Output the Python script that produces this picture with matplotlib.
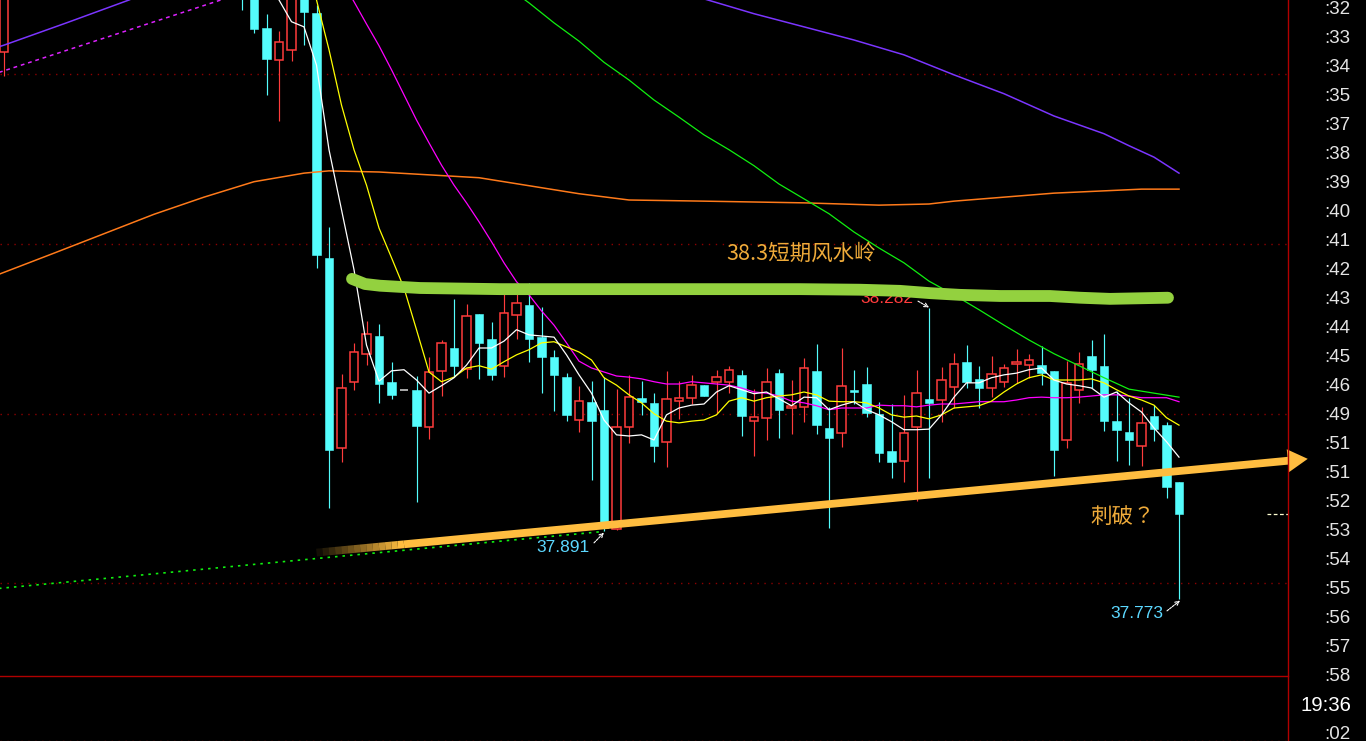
"""Intraday candlestick chart: the 38.3 resistance band and the rising support arrow.

Writes out.png (1366x741).
"""

import matplotlib
matplotlib.use("Agg")
import matplotlib.pyplot as plt
import numpy as np
from matplotlib.collections import LineCollection
from matplotlib.lines import Line2D
from matplotlib.patches import Rectangle, FancyArrowPatch

# ---- candles (bar number, OHLC) --------------------------------------------
BAR = [0] + list(range(19, 95))
OPEN = [38.730, 38.891, 38.856, 38.772, 38.716, 38.734, 38.839, 38.798, 38.370, 38.037,
        38.153, 38.202, 38.233, 38.153, 38.139, 38.139, 38.074, 38.172, 38.212, 38.175,
        38.272, 38.228, 38.181, 38.270, 38.287, 38.231, 38.196, 38.161, 38.086, 38.118,
        38.104, 37.896, 38.074, 38.125, 38.116, 38.048, 38.119, 38.125, 38.147, 38.153,
        38.153, 38.165, 38.084, 38.090, 38.168, 38.107, 38.109, 38.172, 38.072, 38.063,
        38.139, 38.149, 38.097, 38.032, 38.014, 38.074, 38.123, 38.121, 38.144, 38.188,
        38.158, 38.142, 38.153, 38.184, 38.182, 38.182, 38.172, 38.051, 38.139, 38.198,
        38.181, 38.084, 38.065, 38.041, 38.093, 38.077, 37.978]
HIGH = [38.891, 38.909, 38.874, 38.797, 38.767, 38.856, 38.856, 38.812, 38.424, 38.167,
        38.221, 38.259, 38.254, 38.188, 38.139, 38.163, 38.196, 38.226, 38.298, 38.289,
        38.272, 38.258, 38.307, 38.308, 38.326, 38.284, 38.209, 38.168, 38.146, 38.154,
        38.161, 38.140, 38.165, 38.154, 38.133, 38.172, 38.154, 38.165, 38.147, 38.174,
        38.181, 38.174, 38.140, 38.177, 38.175, 38.156, 38.195, 38.219, 38.109, 38.212,
        38.174, 38.179, 38.118, 38.114, 38.130, 38.174, 38.282, 38.179, 38.203, 38.217,
        38.181, 38.198, 38.184, 38.210, 38.202, 38.216, 38.172, 38.189, 38.205, 38.226,
        38.237, 38.137, 38.125, 38.109, 38.112, 38.083, 37.978]
LOW = [38.688, 38.804, 38.763, 38.655, 38.609, 38.714, 38.742, 38.352, 37.932, 38.013,
       38.139, 38.182, 38.116, 38.123, 38.139, 37.943, 38.053, 38.128, 38.161, 38.160,
       38.158, 38.156, 38.161, 38.228, 38.188, 38.133, 38.102, 38.084, 38.065, 37.981,
       37.891, 37.894, 38.046, 38.095, 38.013, 38.004, 38.088, 38.114, 38.128, 38.098,
       38.133, 38.058, 38.023, 38.051, 38.055, 38.062, 38.083, 38.062, 37.897, 38.039,
       38.114, 38.091, 38.013, 37.984, 37.978, 37.944, 37.984, 38.083, 38.107, 38.142,
       38.107, 38.126, 38.144, 38.151, 38.160, 38.147, 37.988, 38.037, 38.116, 38.142,
       38.067, 38.014, 38.007, 38.006, 38.049, 37.950, 37.773]
CLOSE = [38.874, 38.830, 38.770, 38.718, 38.748, 38.839, 38.800, 38.375, 38.034, 38.142,
         38.205, 38.237, 38.149, 38.130, 38.139, 38.076, 38.170, 38.221, 38.181, 38.268,
         38.221, 38.165, 38.273, 38.291, 38.228, 38.196, 38.165, 38.095, 38.119, 38.084,
         37.897, 38.074, 38.126, 38.118, 38.041, 38.123, 38.125, 38.147, 38.128, 38.161,
         38.174, 38.093, 38.091, 38.153, 38.104, 38.111, 38.177, 38.077, 38.055, 38.146,
         38.135, 38.098, 38.028, 38.013, 38.063, 38.133, 38.116, 38.156, 38.184, 38.153,
         38.142, 38.167, 38.177, 38.188, 38.191, 38.168, 38.034, 38.151, 38.184, 38.174,
         38.084, 38.069, 38.051, 38.081, 38.070, 37.969, 37.921]

# ---- moving averages --------------------------------------------------------
MA5_X = list(range(21, 95))
MA5 = [38.860, 38.821, 38.783, 38.774, 38.707, 38.559, 38.454, 38.349, 38.217, 38.154,
       38.172, 38.174, 38.156, 38.133, 38.146, 38.160, 38.182, 38.212, 38.212, 38.224,
       38.244, 38.235, 38.233, 38.231, 38.200, 38.165, 38.133, 38.086, 38.060, 38.058,
       38.060, 38.051, 38.095, 38.107, 38.112, 38.114, 38.135, 38.146, 38.139, 38.132,
       38.135, 38.123, 38.111, 38.126, 38.125, 38.104, 38.112, 38.118, 38.104, 38.095,
       38.083, 38.069, 38.069, 38.070, 38.095, 38.126, 38.151, 38.151, 38.160, 38.165,
       38.168, 38.174, 38.177, 38.156, 38.149, 38.146, 38.142, 38.126, 38.135, 38.116,
       38.100, 38.072, 38.048, 38.021]
MA10_X = list(range(24, 95))
MA10 = [38.891, 38.821, 38.734, 38.637, 38.559, 38.497, 38.422, 38.370, 38.317, 38.244,
        38.170, 38.153, 38.161, 38.177, 38.181, 38.175, 38.188, 38.200, 38.209, 38.221,
        38.223, 38.214, 38.205, 38.191, 38.160, 38.147, 38.130, 38.116, 38.097, 38.084,
        38.081, 38.084, 38.086, 38.095, 38.119, 38.125, 38.119, 38.125, 38.128, 38.130,
        38.135, 38.130, 38.119, 38.118, 38.118, 38.116, 38.107, 38.095, 38.091, 38.093,
        38.088, 38.095, 38.107, 38.109, 38.111, 38.119, 38.135, 38.149, 38.160, 38.165,
        38.156, 38.156, 38.156, 38.158, 38.151, 38.139, 38.128, 38.121, 38.112, 38.090,
        38.077]
MA20_X = list(range(27, 95))
MA20 = [38.856, 38.818, 38.779, 38.741, 38.699, 38.655, 38.611, 38.571, 38.532, 38.497,
        38.466, 38.433, 38.398, 38.361, 38.328, 38.305, 38.277, 38.252, 38.221, 38.189,
        38.177, 38.170, 38.163, 38.161, 38.158, 38.153, 38.149, 38.149, 38.153, 38.151,
        38.149, 38.147, 38.142, 38.135, 38.133, 38.128, 38.119, 38.116, 38.111, 38.104,
        38.107, 38.107, 38.107, 38.112, 38.111, 38.111, 38.109, 38.112, 38.114, 38.114,
        38.116, 38.118, 38.118, 38.118, 38.121, 38.125, 38.126, 38.125, 38.125, 38.126,
        38.128, 38.130, 38.130, 38.128, 38.125, 38.125, 38.125, 38.118]
MA60_X = [41, 42, 44, 46, 48, 50, 52, 54, 56, 58, 60, 62, 64, 66, 68, 70, 72, 74, 76,
          78, 80, 82, 84, 86, 88, 90, 92, 94]
MA60 = [38.832, 38.816, 38.781, 38.749, 38.712, 38.681, 38.646, 38.616, 38.585, 38.559,
        38.531, 38.499, 38.473, 38.447, 38.415, 38.387, 38.361, 38.329, 38.305, 38.279,
        38.252, 38.226, 38.202, 38.181, 38.160, 38.140, 38.133, 38.126]
MA120_X = [-1, 0, 5, 10, 15, 25, 40, 50, 56, 60, 64, 68, 72, 76, 80, 84, 88, 90, 92,
           93, 94]
MA120 = [38.735, 38.742, 38.781, 38.821, 38.870, 38.950, 38.980, 38.900, 38.823, 38.797,
         38.774, 38.751, 38.725, 38.690, 38.657, 38.618, 38.587, 38.566, 38.546, 38.532,
         38.518]
MA250_X = [-1, 4, 8, 12, 16, 20, 24, 26, 30, 34, 38, 42, 46, 50, 56, 64, 70, 74, 76, 80,
           84, 88, 91, 94]
MA250 = [38.336, 38.378, 38.412, 38.446, 38.476, 38.503, 38.518, 38.522, 38.520, 38.515,
         38.510, 38.496, 38.482, 38.471, 38.469, 38.466, 38.462, 38.464, 38.469, 38.476,
         38.483, 38.487, 38.490, 38.490]

# ---- drawn lines and notes ---------------------------------------------------
DOTTED_PINK_X = [-1, 20]
DOTTED_PINK = [38.690, 38.840]
DOTTED_GREEN_X = [-1, 48]
DOTTED_GREEN = [37.790, 37.891]
SUPPORT_X = [25.0, 104.3]
SUPPORT = [37.854, 38.018]
RESIST_X = [27.84, 28.88, 30.08, 33.28, 39.68, 47.68, 55.68, 63.68, 68.48, 71.68,
            74.08, 76.48, 79.68, 83.68, 86.08, 88.48, 93.12]
RESIST = [38.333, 38.324, 38.321, 38.317, 38.315, 38.315, 38.315, 38.315, 38.314, 38.312,
          38.308, 38.305, 38.303, 38.303, 38.300, 38.298, 38.300]
GRID = [38.692, 38.394, 38.097, 37.800]
# (text, text anchor, pointer start, pointer tip, colour)
PRICE_NOTES = [("38.282", (72.72, 38.299), (73.12, 38.294), (74.0, 38.283), "#ff3c3c"),
               ("37.891", (46.88, 37.862), (47.2, 37.871), (48.0, 37.889), "#5cd8ff"),
               ("37.773", (92.72, 37.747), (93.04, 37.752), (94.08, 37.770), "#5cd8ff")]
TITLE_NOTE = ("38.3短期风水岭", 57.8, 38.377)
BREAK_NOTE = ("刺破？", 86.9, 37.916)
TIME_LABELS = [":32", ":33", ":34", ":35", ":37", ":38", ":39", ":40", ":41", ":42", ":43",
               ":44", ":45", ":46", ":49", ":51", ":51", ":52", ":53", ":54", ":55", ":56",
               ":57", ":58", "19:36", ":02"]

W, H = 1366, 741
PANEL_RIGHT, PANEL_BOTTOM = 1288, 676
RED = "#ff3c3c"
CYAN = "#54fcfc"
FRAME = "#b00000"
NOTE = "#efab3a"
ARROW = "#ffbd40"
BODY = 0.68
FADE_BARS = 7.0   # the support arrow fades in over its first few bars


def main():
    fig = plt.figure(figsize=(W / 100, H / 100), dpi=100, facecolor="black")
    ax = fig.add_axes([0, 1 - PANEL_BOTTOM / H, PANEL_RIGHT / W, PANEL_BOTTOM / H])
    ax.set_facecolor("black")
    ax.set_xlim(-0.32, 102.72)
    ax.set_ylim(37.638, 38.821)
    ax.set_xticks([])
    ax.set_yticks([])
    for s in ax.spines.values():
        s.set_visible(False)

    for g in GRID:
        ax.axhline(g, color="#8c0000", lw=1.0, ls=(0, (1, 4)), zorder=1)

    # candles
    for i, o, h, l, c in zip(BAR, OPEN, HIGH, LOW, CLOSE):
        if c == o:
            ax.hlines(c, i - BODY / 2, i + BODY / 2, color="#b8b8b8", lw=1.3, zorder=3)
            continue
        up = c > o
        col = RED if up else CYAN
        ax.vlines(i, l, h, color=col, lw=0.85, zorder=2)
        ax.add_patch(Rectangle((i - BODY / 2, min(o, c)), BODY, abs(c - o),
                               facecolor="black" if up else CYAN, edgecolor=col,
                               lw=1.1 if up else 0.4, zorder=3))

    # moving averages
    ax.plot(MA250_X, MA250, color="#ff7a1a", lw=1.1, zorder=4)
    ax.plot(MA120_X, MA120, color="#7b35ff", lw=1.1, zorder=4)
    ax.plot(MA60_X, MA60, color="#10f010", lw=0.9, zorder=4)
    ax.plot(MA20_X, MA20, color="#ff00ff", lw=0.9, zorder=4)
    ax.plot(MA10_X, MA10, color="#ffff00", lw=0.9, zorder=4)
    ax.plot(MA5_X, MA5, color="white", lw=0.9, zorder=4)
    ax.plot(DOTTED_PINK_X, DOTTED_PINK, color="#dd22ff", lw=1.1, ls=(0, (2.5, 2.5)), zorder=4)
    ax.plot(DOTTED_GREEN_X, DOTTED_GREEN, color="#10f010", lw=1.2, ls=(0, (1.5, 3)), zorder=4)

    # current price marker on the right edge
    ax.hlines(CLOSE[-1], 101.0, 102.72, color="#ffffd0", lw=0.9, ls=(0, (3, 2)), zorder=4)

    # price notes with small pointer arrows
    for txt, (tx, ty), start, tip, col in PRICE_NOTES:
        ax.text(tx, ty, txt, color=col, fontsize=12.5, ha="right", va="center",
                family=["Liberation Sans", "DejaVu Sans"], zorder=5)
        ax.annotate("", xy=tip, xytext=start,
                    arrowprops=dict(arrowstyle="->", color="white", lw=0.8, ls=(0, (2, 1)),
                                    shrinkA=0, shrinkB=0, mutation_scale=7), zorder=7)

    # hand-drawn resistance band
    ax.plot(RESIST_X, RESIST, color="#93d13f", lw=8.5, solid_capstyle="round",
            solid_joinstyle="round", zorder=6)

    # hand-drawn support arrow: faded tail, then solid body with head
    slope = (SUPPORT[1] - SUPPORT[0]) / (SUPPORT_X[1] - SUPPORT_X[0])
    fx = np.linspace(SUPPORT_X[0], SUPPORT_X[0] + FADE_BARS, 15)
    fy = SUPPORT[0] + slope * (fx - SUPPORT_X[0])
    segs = [[(fx[k], fy[k]), (fx[k + 1], fy[k + 1])] for k in range(len(fx) - 1)]
    alphas = np.linspace(0.08, 1.0, len(segs))
    cols = [matplotlib.colors.to_rgba(ARROW, a) for a in alphas]
    ax.add_collection(LineCollection(segs, colors=cols, linewidths=5.6,
                                     capstyle="butt", zorder=6))
    x0 = SUPPORT_X[0] + FADE_BARS
    ax.add_patch(FancyArrowPatch((x0, SUPPORT[0] + slope * FADE_BARS),
                                 (SUPPORT_X[1], SUPPORT[1]),
                                 arrowstyle="simple,head_length=0.72,head_width=0.83,tail_width=0.28",
                                 mutation_scale=20, color=ARROW, lw=0,
                                 shrinkA=0, shrinkB=0, clip_on=False, zorder=6))

    txt, x, y = TITLE_NOTE
    ax.text(x, y, txt, color=NOTE, fontsize=15.5, ha="left", va="center",
            family=["Noto Sans CJK SC", "DejaVu Sans"], zorder=6)
    txt, x, y = BREAK_NOTE
    ax.text(x, y, txt, color=NOTE, fontsize=15.5, ha="left", va="center",
            family=["Noto Sans CJK JP", "DejaVu Sans"], zorder=6)

    # panel frame
    xr = PANEL_RIGHT / W
    fig.add_artist(Line2D([xr, xr], [0, 1], color=FRAME, lw=1.0))
    yb = 1 - PANEL_BOTTOM / H
    fig.add_artist(Line2D([0, xr], [yb, yb], color=FRAME, lw=1.0))
    fig.add_artist(Line2D([0, xr], [0.5 / H, 0.5 / H], color="#8c0000", lw=1.0, ls=(0, (1, 4))))

    # right-hand time labels
    axr = fig.add_axes([xr, 0, 1 - xr, 1])
    axr.set_xlim(PANEL_RIGHT, W)
    axr.set_ylim(H, 0)
    axr.axis("off")
    for k, lab in enumerate(TIME_LABELS):
        big = len(lab) > 3
        axr.text(1351 if big else 1350, 14 + 29 * k + (1 if big else 0), lab,
                 color="white" if big else "#e4e4e4", fontsize=14.7 if big else 13.5,
                 ha="right", va="baseline", family=["Liberation Sans", "DejaVu Sans"])

    fig.savefig("out.png", dpi=100, facecolor="black")


if __name__ == "__main__":
    main()
